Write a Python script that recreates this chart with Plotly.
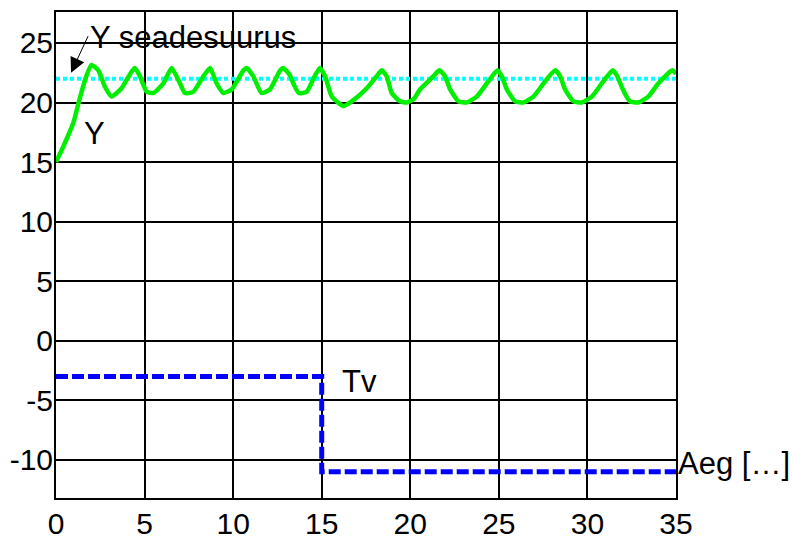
import plotly.graph_objects as go

# Y (controlled value)
t_y = [0, 0.41, 0.98, 1.26, 1.64, 2.0, 2.39, 2.77, 3.14, 3.7,
       4.27, 4.46, 4.74, 5.12, 5.5, 6.06, 6.53, 7.0, 7.28, 7.75,
       8.32, 8.7, 9.07, 9.45, 9.92, 10.58, 10.77, 11.14, 11.6, 12.08,
       12.65, 12.83, 13.2, 13.4, 13.7, 14.15, 14.6, 14.9, 15.19, 15.57,
       16.22, 16.79, 17.54, 18.1, 18.39, 18.67, 18.95, 19.42, 19.8, 20.2,
       20.55, 21.3, 21.64, 21.96, 22.25, 22.72, 23.19, 23.75, 24.32, 24.92,
       25.17, 25.45, 25.92, 26.39, 26.95, 27.52, 28.18, 28.46, 28.74, 29.21,
       29.68, 30.25, 30.81, 31.43, 31.69, 32.0, 32.4, 32.88, 33.44, 34.0,
       34.67, 34.82, 35.0]
y_vals = [15.0, 16.3, 18.3, 19.9, 21.9, 23.15, 22.7, 21.3, 20.5, 21.2,
          22.6, 22.9, 22.2, 20.9, 20.8, 21.6, 22.9, 21.6, 20.8, 20.9,
          22.2, 22.9, 21.6, 20.8, 21.1, 22.7, 22.9, 22.2, 20.8, 21.1,
          22.7, 22.9, 22.3, 21.6, 20.8, 20.9, 22.2, 22.9, 22.2, 20.5,
          19.7, 20.2, 21.2, 22.2, 22.7, 22.2, 20.8, 20.1, 20.0, 20.3,
          21.1, 22.2, 22.7, 22.2, 21.1, 20.1, 20.0, 20.5, 21.6, 22.7,
          22.2, 21.1, 20.1, 20.0, 20.5, 21.6, 22.7, 22.2, 21.1, 20.1,
          20.0, 20.5, 21.6, 22.7, 22.2, 21.1, 20.1, 20.0, 20.5, 21.6,
          22.6, 22.7, 22.4]

# Setpoint
t_sp = [0, 35]
sp_vals = [22, 22]

# Tv (outdoor temperature)
t_tv = [0, 15, 15, 35]
tv_vals = [-3, -3, -11, -11]

x_ticks = [0, 5, 10, 15, 20, 25, 30, 35]
x_labels = ["0", "5", "10", "15", "20", "25", "30", "35"]
y_ticks = [-10, -5, 0, 5, 10, 15, 20, 25]
y_labels = ["-10", "-5", "0", "5", "10", "15", "20", "25"]

FONT = "Liberation Sans, Arial, sans-serif"
FS = 31
TFS = 30

fig = go.Figure()
fig.add_trace(go.Scatter(x=t_sp, y=sp_vals, mode="lines",
                         line=dict(color="#00ffff", width=4, dash="4px,3px")))
fig.add_trace(go.Scatter(x=t_tv, y=tv_vals, mode="lines",
                         line=dict(color="#0000ff", width=5, dash="12px,4px")))
fig.add_trace(go.Scatter(x=t_y, y=y_vals, mode="lines",
                         line=dict(color="#00ee00", width=4.5,
                                   shape="spline", smoothing=0.5)))

ann_font = dict(family=FONT, size=FS, color="black")
fig.add_annotation(x=1.8, y=25.45, text="Y seadesuurus", showarrow=False,
                   xanchor="left", yanchor="middle", font=ann_font)
fig.add_annotation(x=0.85, y=22.5, ax=1.85, ay=25.7, axref="x", ayref="y",
                   text="", showarrow=True, arrowhead=2, arrowsize=3,
                   arrowwidth=1, arrowcolor="black")
fig.add_annotation(x=2.15, y=17.4, text="Y", showarrow=False,
                   xanchor="center", yanchor="middle", font=ann_font)
fig.add_annotation(x=16.04, y=-3.45, text="Tv", showarrow=False,
                   xanchor="left", yanchor="middle", font=ann_font)
fig.add_annotation(x=35, y=-10.3, text="Aeg […]", showarrow=False,
                   xanchor="left", yanchor="middle", font=ann_font)

fig.update_layout(
    width=792, height=541,
    margin=dict(l=56, r=116, t=12, b=43),
    paper_bgcolor="white", plot_bgcolor="white",
    showlegend=False,
    font=dict(family=FONT, size=FS, color="black"),
)
fig.update_xaxes(range=[0, 35], tickvals=x_ticks, ticktext=x_labels,
                 showgrid=True, gridcolor="black", gridwidth=2,
                 showline=True, linecolor="black", linewidth=2, mirror=True,
                 zeroline=False, ticks="", ticklabelstandoff=-2, automargin=False,
                 tickfont=dict(family=FONT, size=TFS, color="black"))
fig.update_yaxes(range=[-13.2, 27.6], tickvals=y_ticks, ticktext=y_labels,
                 showgrid=True, gridcolor="black", gridwidth=2,
                 showline=True, linecolor="black", linewidth=2, mirror=True,
                 zeroline=False, ticks="", ticklabelstandoff=-5, automargin=False,
                 tickfont=dict(family=FONT, size=TFS, color="black"))

fig.write_html("out.html")
